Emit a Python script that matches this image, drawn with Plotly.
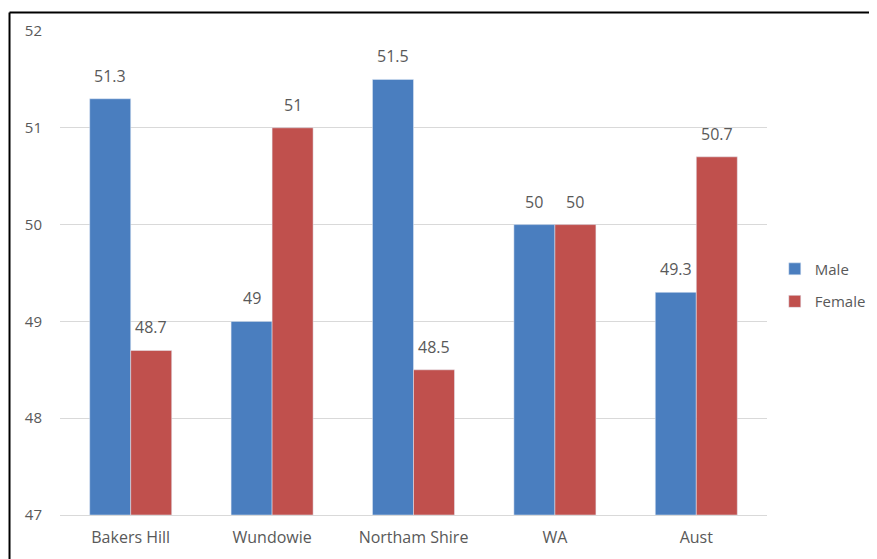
import plotly.graph_objects as go

categories = ["Bakers Hill", "Wundowie", "Northam Shire", "WA", "Aust"]
male = [51.3, 49, 51.5, 50, 49.3]
female = [48.7, 51, 48.5, 50, 50.7]
y_ticks = [47, 48, 49, 50, 51, 52]

font_family = "'Open Sans', sans-serif"
txt_color = "#595959"

fig = go.Figure()
fig.add_trace(go.Bar(name="Male", x=categories, y=[v - 47 for v in male], base=47,
                     marker_color="#4A7EBF", legendgroup="m"))
fig.add_trace(go.Bar(name="Female", x=categories, y=[v - 47 for v in female], base=47,
                     marker_color="#C0504D", legendgroup="f"))

annotations = []
for series, shift in ((male, -20.5), (female, 20.5)):
    for cat, v in zip(categories, series):
        annotations.append(dict(x=cat, y=v, xref="x", yref="y", text=f"{v:g}",
                                showarrow=False, xshift=shift, yshift=10,
                                yanchor="bottom",
                                font=dict(size=16, color=txt_color, family=font_family)))

fig.update_layout(
    width=877, height=559,
    margin=dict(l=52, r=118, t=19, b=52),
    paper_bgcolor="white", plot_bgcolor="white",
    barmode="group", bargap=0.42, bargroupgap=0,
    font=dict(family=font_family, size=14, color=txt_color),
    legend=dict(x=1.011, y=0.475, xanchor="left", yanchor="middle",
                font=dict(size=15, color=txt_color), itemwidth=30,
                traceorder="grouped", tracegroupgap=10),
    showlegend=True,
    yaxis=dict(range=[47, 52], tickvals=y_ticks, showgrid=True, gridcolor="#D9D9D9",
               gridwidth=1, zeroline=False, showline=False, ticks="",
               tickfont=dict(size=15, color=txt_color), ticklabelstandoff=17),
    xaxis=dict(showline=True, linecolor="#D9D9D9", linewidth=1, ticks="",
               tickfont=dict(size=16, color=txt_color), ticklabelstandoff=8),
    annotations=annotations,
    shapes=[
        dict(type="line", xref="paper", yref="paper", x0=-0.0714, x1=1.17, y0=1.038, y1=1.038,
             line=dict(color="black", width=2)),
        dict(type="line", xref="paper", yref="paper", x0=-0.0714, x1=-0.0714, y0=1.038, y1=-0.1,
             line=dict(color="black", width=2)),
    ],
)

fig.write_html("out.html")
